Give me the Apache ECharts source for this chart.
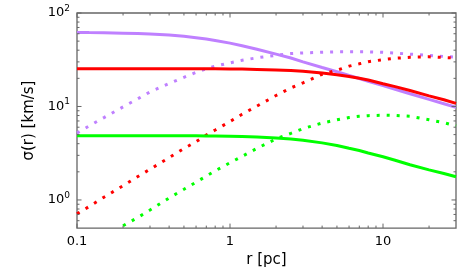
<!DOCTYPE html>
<html><head><meta charset="utf-8">
<script src="https://cdn.jsdelivr.net/npm/echarts@6/dist/echarts.min.js"></script>
<style>html,body{margin:0;padding:0;background:#fff}#c{width:474px;height:273px}</style>
</head><body><div id="c"></div>
<script>
// radius grid (pc)
const r = [0.1,0.12,0.15,0.2,0.25,0.3,0.4,0.5,0.6,0.7,0.8,1,1.2,1.5,2,2.5,3,4,5,6,7,8,10,12,15,20,25,30];
// purple (solid / dotted)
const purpleSolid = [62.0,61.7,61.4,60.9,60.3,59.6,58.1,56.3,54.5,52.7,50.9,47.6,44.7,41.0,36.3,33.0,30.0,26.1,23.5,21.5,19.9,18.6,16.7,15.3,13.7,11.9,10.7,9.8];
const purpleDot   = [5.2,6.2,7.6,9.9,12.1,14.3,17.6,20.5,23.2,25.4,27.0,29.3,31.2,33.2,35.3,36.8,37.4,38.1,38.4,38.4,38.4,38.4,38.0,37.3,36.3,35.2,34.3,33.6];
// red (solid / dotted)
const redSolid = [25.4,25.4,25.4,25.4,25.4,25.4,25.4,25.4,25.4,25.3,25.3,25.2,25.1,24.9,24.6,24.2,23.8,22.8,21.8,20.9,20.0,19.2,17.5,16.3,14.8,13.0,11.8,10.8];
const redDot   = [0.71,0.85,1.07,1.42,1.78,2.13,2.84,3.55,4.2,4.95,5.6,6.9,8.26,10.1,13.1,15.8,17.9,22.1,24.4,27.0,28.6,30.1,31.7,32.8,33.6,34.0,33.4,33.0];
// green (solid / dotted)
const greenSolid = [4.87,4.87,4.87,4.87,4.87,4.87,4.87,4.86,4.85,4.84,4.83,4.80,4.77,4.71,4.61,4.49,4.36,4.08,3.83,3.57,3.38,3.18,2.90,2.66,2.38,2.10,1.92,1.77];
const greenDot   = [null,null,null,0.53,0.65,0.78,1.05,1.3,1.55,1.8,2.05,2.5,2.93,3.56,4.5,5.16,5.8,6.65,7.2,7.62,7.85,7.98,8.07,8.02,7.85,7.2,6.72,6.2];
// axes
const xMin = 0.1, xMax = 30, yMin = 0.5, yMax = 100;
const xMajor = [0.1,1,10];
const xMinor = [0.2,0.3,0.4,0.5,0.6,0.7,0.8,0.9,2,3,4,5,6,7,8,9,20];
const yMajor = [1,10,100];
const yMinor = [0.6,0.7,0.8,0.9,2,3,4,5,6,7,8,9,20,30,40,50,60,70,80,90];

const PURPLE = '#bf80ff', RED = '#ff0000', GREEN = '#00ff00', AX = '#666666';
const FONT = 'DejaVu Sans';

function pairs(ys){ return r.map((x,i)=> ys[i]==null ? null : [x, ys[i]]).filter(p=>p); }
function line(ys, color, dotted, z){
  return {type:'line', data:pairs(ys), showSymbol:false, symbol:'none', clip:true, z:z, silent:true,
    lineStyle:{color:color, width:3, type: dotted ? [3,7] : 'solid', cap:'butt'}};
}
const xTickData = xMajor.map(v=>[v,1,1]).concat(xMinor.map(v=>[v,1,0]));
const yTickData = yMajor.map(v=>[1,v,1]).concat(yMinor.map(v=>[1,v,0]));

const option = {
  animation:false,
  grid:{left:77, right:18, top:13, bottom:42, show:true, borderColor:AX, borderWidth:1.3, backgroundColor:'transparent'},
  xAxis:{type:'log', logBase:10, min:xMin, max:xMax,
    name:'r [pc]', nameLocation:'middle', nameGap:23,
    nameTextStyle:{fontFamily:FONT, fontSize:15, color:'#000'},
    axisLine:{show:false}, axisTick:{show:false}, splitLine:{show:false}, minorTick:{show:false},
    axisLabel:{fontFamily:FONT, fontSize:13, color:'#000', margin:7,
      formatter:v=>{ const l=Math.log10(v); return Math.abs(l-Math.round(l))<1e-6 ? (v<1? String(v): String(Math.round(v))) : ''; },
      showMinLabel:true, showMaxLabel:false}},
  yAxis:{type:'log', logBase:10, min:yMin, max:yMax,
    name:'σ(r) [km/s]', nameLocation:'middle', nameGap:39,
    nameTextStyle:{fontFamily:FONT, fontSize:15, color:'#000'},
    axisLine:{show:false}, axisTick:{show:false}, splitLine:{show:false},
    axisLabel:{fontFamily:FONT, fontSize:13, color:'#000', margin:7,
      formatter:v=>{ const l=Math.log10(v); return Math.abs(l-Math.round(l))<1e-6 ? '10{s|'+Math.round(l)+'}' : ''; },
      rich:{s:{fontFamily:FONT, fontSize:9, color:'#000', padding:[0,0,9,0]}},
      showMinLabel:false}},
  series:[
    line(purpleSolid, PURPLE, false, 2),
    line(purpleDot, PURPLE, true, 3),
    line(redSolid, RED, false, 4),
    line(redDot, RED, true, 5),
    line(greenSolid, GREEN, false, 6),
    line(greenDot, GREEN, true, 7),
    {type:'custom', z:10, silent:true, clip:false, data:xTickData,
      renderItem:(params, api)=>{
        const v = api.value(0), major = api.value(2), L = major ? 4.5 : 2.5;
        const b = api.coord([v, yMin]), t = api.coord([v, yMax]);
        const st = {stroke:AX, lineWidth:1};
        return {type:'group', children:[
          {type:'line', shape:{x1:b[0], y1:b[1], x2:b[0], y2:b[1]-L}, style:st},
          {type:'line', shape:{x1:t[0], y1:t[1], x2:t[0], y2:t[1]+L}, style:st}]};
      }},
    {type:'custom', z:10, silent:true, clip:false, data:yTickData,
      renderItem:(params, api)=>{
        const v = api.value(1), major = api.value(2), L = major ? 4.5 : 2.5;
        const lft = api.coord([xMin, v]), rgt = api.coord([xMax, v]);
        const st = {stroke:AX, lineWidth:1};
        return {type:'group', children:[
          {type:'line', shape:{x1:lft[0], y1:lft[1], x2:lft[0]+L, y2:lft[1]}, style:st},
          {type:'line', shape:{x1:rgt[0], y1:rgt[1], x2:rgt[0]-L, y2:rgt[1]}, style:st}]};
      }}
  ]
};
const chart = echarts.init(document.getElementById('c'), null, {renderer:'canvas'});
chart.setOption(option);
</script>
</body></html>
